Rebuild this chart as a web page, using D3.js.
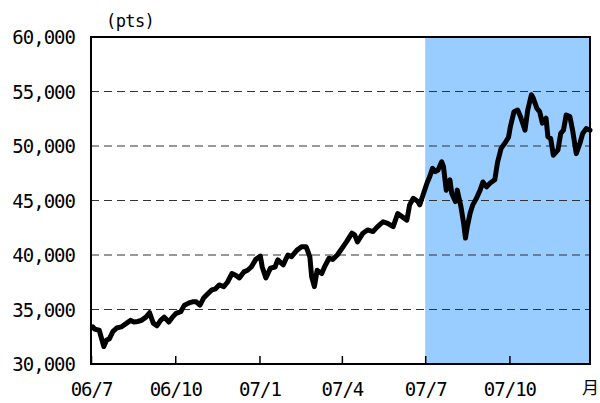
<!DOCTYPE html>
<html>
<head>
<meta charset="utf-8">
<script src="https://cdn.jsdelivr.net/npm/d3@7"></script>
<style>
  body { margin: 0; background: #fff; }
  text { font-family: "DejaVu Sans Mono", "Noto Sans CJK JP", monospace; fill: #000; }
</style>
</head>
<body>
<svg id="chart"></svg>
<script>
// Data
const dates = [
  "2006-07-03","2006-07-05","2006-07-10","2006-07-15","2006-07-18","2006-07-21","2006-07-25","2006-07-29",
  "2006-08-03","2006-08-09","2006-08-13","2006-08-17","2006-08-21","2006-08-25","2006-08-30",
  "2006-09-03","2006-09-07","2006-09-11","2006-09-15","2006-09-19","2006-09-24","2006-09-28",
  "2006-10-02","2006-10-07","2006-10-11","2006-10-16","2006-10-20","2006-10-24","2006-10-28",
  "2006-11-01","2006-11-05","2006-11-10","2006-11-14","2006-11-18","2006-11-23","2006-11-27",
  "2006-12-02","2006-12-06","2006-12-10","2006-12-15","2006-12-19","2006-12-23","2006-12-28",
  "2007-01-02","2007-01-04","2007-01-08","2007-01-13","2007-01-18","2007-01-21","2007-01-27",
  "2007-02-01","2007-02-05","2007-02-11","2007-02-16","2007-02-21","2007-02-25","2007-02-27",
  "2007-03-02","2007-03-05","2007-03-10","2007-03-13","2007-03-18","2007-03-22","2007-03-27",
  "2007-04-01","2007-04-06","2007-04-12","2007-04-15","2007-04-18","2007-04-24","2007-04-29",
  "2007-05-05","2007-05-10","2007-05-16","2007-05-21","2007-05-27",
  "2007-06-01","2007-06-06","2007-06-11","2007-06-14","2007-06-18","2007-06-23","2007-06-25","2007-06-28",
  "2007-07-03","2007-07-06","2007-07-09","2007-07-12","2007-07-15","2007-07-19","2007-07-21","2007-07-24",
  "2007-07-28","2007-07-30",
  "2007-08-03","2007-08-05","2007-08-09","2007-08-12","2007-08-14","2007-08-16","2007-08-19","2007-08-22",
  "2007-08-26","2007-08-30",
  "2007-09-02","2007-09-06","2007-09-10","2007-09-15","2007-09-18","2007-09-22","2007-09-26","2007-09-30",
  "2007-10-02","2007-10-06","2007-10-10","2007-10-13","2007-10-18","2007-10-21","2007-10-25","2007-10-27",
  "2007-10-31",
  "2007-11-03","2007-11-06","2007-11-10","2007-11-12","2007-11-15","2007-11-18","2007-11-23","2007-11-26",
  "2007-11-29",
  "2007-12-02","2007-12-06","2007-12-09","2007-12-13","2007-12-17","2007-12-20","2007-12-24","2007-12-28"
];

const values = [
  33400,33200,33100,31600,32200,32300,33000,33300,
  33400,33750,34000,33850,33900,34000,34300,
  34700,33750,33500,34000,34300,33850,34300,
  34650,34800,35400,35600,35700,35700,35400,
  36050,36400,36800,36900,37250,37100,37500,
  38300,38150,37900,38450,38600,38900,39600,
  39900,38900,37900,38800,38900,39550,39100,
  40000,39850,40450,40750,40750,39850,38000,
  37100,38600,38300,38900,39700,39600,40000,
  40600,41200,42000,41850,41200,42000,42300,
  42150,42600,43050,42900,42600,
  43800,43500,43200,44600,45200,44900,44600,45350,
  46600,47200,47950,47650,47800,48550,48100,45950,
  46900,45650,
  44900,45950,44450,42900,41550,42600,43800,44600,
  45200,45950,
  46700,46250,46600,46900,48500,49800,50250,50800,
  51750,53150,53300,52700,51450,53300,54700,54400,
  53450,
  53150,52100,52550,50850,50700,49150,49650,51150,
  51450,
  52850,52700,51450,49300,50250,51150,51600,51450
];

const yTicks = [30000, 35000, 40000, 45000, 50000, 55000, 60000];
const xTickDates = ["2006-07-01","2006-10-01","2007-01-01","2007-04-01","2007-07-01","2007-10-01"];
const xTickLabels = ["06/7","06/10","07/1","07/4","07/7","07/10"];
const shadeRange = ["2007-07-01", "2007-12-28"];
const xDomain = ["2006-07-01", "2007-12-28"];

// Dimensions
const width = 600;
const height = 403;
const margin = { top: 37, right: 10, bottom: 39, left: 91 };

const parse = d3.timeParse("%Y-%m-%d");
const data = dates.map((d, i) => ({ date: parse(d), value: values[i] }));

const svg = d3.select("#chart")
  .attr("width", width)
  .attr("height", height);

const xScale = d3.scaleTime()
  .domain(xDomain.map(parse))
  .range([margin.left, width - margin.right]);

const yScale = d3.scaleLinear()
  .domain([30000, 60000])
  .range([height - margin.bottom, margin.top]);

// Shaded period
svg.append("rect")
  .attr("x", xScale(parse(shadeRange[0])))
  .attr("y", margin.top)
  .attr("width", xScale(parse(shadeRange[1])) - xScale(parse(shadeRange[0])))
  .attr("height", yScale(30000) - yScale(60000))
  .attr("fill", "#99ccff");

// Dashed gridlines
svg.append("g")
  .selectAll("line")
  .data(yTicks.filter(d => d > 30000 && d < 60000))
  .enter()
  .append("line")
  .attr("x1", margin.left)
  .attr("x2", width - margin.right)
  .attr("y1", d => yScale(d))
  .attr("y2", d => yScale(d))
  .attr("stroke", "#333")
  .attr("stroke-width", 1)
  .attr("stroke-dasharray", "8,5");

// Line
const line = d3.line()
  .x(d => xScale(d.date))
  .y(d => yScale(d.value));

svg.append("path")
  .datum(data)
  .attr("d", line)
  .attr("fill", "none")
  .attr("stroke", "#000")
  .attr("stroke-width", 5)
  .attr("stroke-linejoin", "round")
  .attr("stroke-linecap", "round");

// Frame
svg.append("rect")
  .attr("x", margin.left)
  .attr("y", margin.top)
  .attr("width", width - margin.right - margin.left)
  .attr("height", height - margin.bottom - margin.top)
  .attr("fill", "none")
  .attr("stroke", "#000")
  .attr("stroke-width", 2);

// X axis: inward ticks and labels
const xAxis = d3.axisBottom(xScale)
  .tickValues(xTickDates.map(parse))
  .tickFormat((d, i) => xTickLabels[i])
  .tickSizeInner(-8)
  .tickSizeOuter(0)
  .tickPadding(19);

const gx = svg.append("g")
  .attr("transform", `translate(0, ${height - margin.bottom})`)
  .call(xAxis);
gx.select(".domain").remove();
gx.selectAll("line").attr("stroke", "#000").attr("stroke-width", 1.5);
gx.selectAll("text")
  .attr("font-size", 19)
  .attr("letter-spacing", -1)
  .attr("font-family", "DejaVu Sans Mono");

// Y axis labels
const yAxis = d3.axisLeft(yScale)
  .tickValues(yTicks)
  .tickFormat(d3.format(","))
  .tickSize(0)
  .tickPadding(16);

const gy = svg.append("g")
  .attr("transform", `translate(${margin.left}, 0)`)
  .call(yAxis);
gy.select(".domain").remove();
gy.selectAll("text")
  .attr("font-size", 19)
  .attr("letter-spacing", -1)
  .attr("dy", "0.36em")
  .attr("font-family", "DejaVu Sans Mono");

// Unit labels
svg.append("text")
  .attr("x", 106)
  .attr("y", 27)
  .attr("font-size", 17)
  .attr("letter-spacing", -0.6)
  .text("(pts)");

svg.append("text")
  .attr("x", 582)
  .attr("y", 394)
  .attr("font-size", 17)
  .style("font-family", "'Noto Sans CJK JP'")
  .text("月");
</script>
</body>
</html>
